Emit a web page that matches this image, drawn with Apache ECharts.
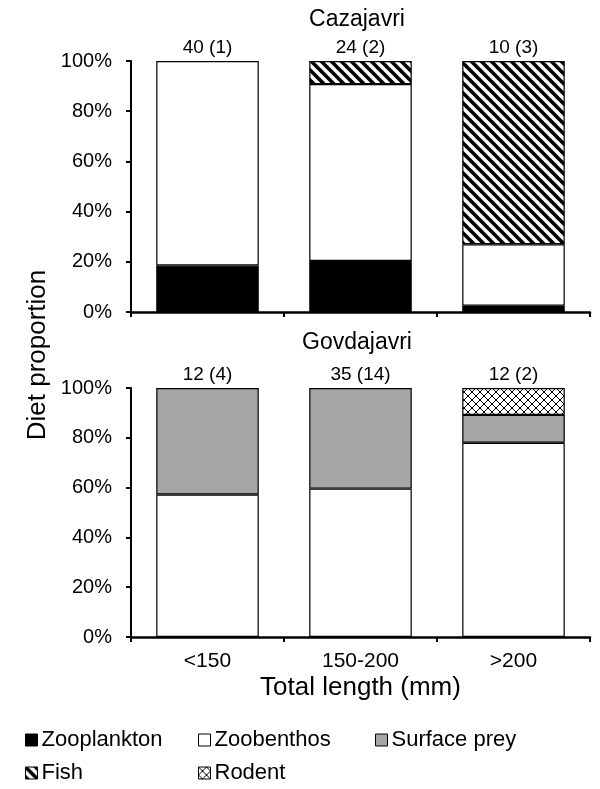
<!DOCTYPE html>
<html>
<head>
<meta charset="utf-8">
<script src="https://cdn.jsdelivr.net/npm/echarts@6/dist/echarts.min.js"></script>
<style>
html,body{margin:0;padding:0;background:#fff;}
#chart{width:600px;height:789px;}
</style>
</head>
<body>
<div id="chart"></div>
<script>
// ---- data ----
var categories = ['<150', '150-200', '>200'];
var preyNames = ['Zooplankton', 'Zoobenthos', 'Surface prey', 'Fish', 'Rodent'];
var lakeTitles = ['Cazajavri', 'Govdajavri'];
// Cazajavri (%)
var cazZooplankton = [18.5, 20.3, 2.5];
var cazZoobenthos = [81.5, 70.5, 24.5];
var cazSurfacePrey = [0, 0, 0];
var cazFish = [0, 9.2, 73.0];
var cazRodent = [0, 0, 0];
var cazCounts = ['40 (1)', '24 (2)', '10 (3)'];
// Govdajavri (%)
var govZooplankton = [0, 0, 0];
var govZoobenthos = [57.2, 59.6, 78.0];
var govSurfacePrey = [42.8, 40.4, 11.2];
var govFish = [0, 0, 0];
var govRodent = [0, 0, 10.8];
var govCounts = ['12 (4)', '35 (14)', '12 (2)'];
var yTicks = [0, 20, 40, 60, 80, 100];

// ---- patterns ----
function stripePattern() {
  var c = document.createElement('canvas');
  c.width = 10; c.height = 10;
  var g = c.getContext('2d');
  g.fillStyle = '#fff'; g.fillRect(0, 0, 10, 10);
  g.strokeStyle = '#000'; g.lineWidth = 3.6;
  for (var k = -10; k <= 10; k += 10) {
    g.beginPath(); g.moveTo(k - 2, -2); g.lineTo(k + 12, 12); g.stroke();
  }
  return c;
}
function crossPattern() {
  var c = document.createElement('canvas');
  c.width = 8; c.height = 8;
  var g = c.getContext('2d');
  g.fillStyle = '#fff'; g.fillRect(0, 0, 8, 8);
  g.strokeStyle = '#000'; g.lineWidth = 1;
  g.beginPath(); g.moveTo(-1, -1); g.lineTo(9, 9); g.stroke();
  g.beginPath(); g.moveTo(9, -1); g.lineTo(-1, 9); g.stroke();
  return c;
}
var fills = {
  'Zooplankton': '#000000',
  'Zoobenthos': '#ffffff',
  'Surface prey': '#a6a6a6',
  'Fish': {image: stripePattern(), repeat: 'repeat'},
  'Rodent': {image: crossPattern(), repeat: 'repeat'}
};

var FONT = "'Liberation Sans', Arial, sans-serif";
var lakes = [
  {values: [cazZooplankton, cazZoobenthos, cazSurfacePrey, cazFish, cazRodent], counts: cazCounts},
  {values: [govZooplankton, govZoobenthos, govSurfacePrey, govFish, govRodent], counts: govCounts}
];

var grids = [
  {left: 131, right: 10, top: 61, height: 251},
  {left: 131, right: 10, top: 388, height: 249}
];

var xAxes = [], yAxes = [], series = [];
lakes.forEach(function (lake, gi) {
  xAxes.push({
    type: 'category', gridIndex: gi, data: categories,
    axisLine: {lineStyle: {color: '#000', width: 2.5}},
    axisTick: {show: true, length: 5, lineStyle: {color: '#000', width: 2}},
    axisLabel: {show: gi === 1, color: '#000', fontSize: 21, fontFamily: FONT, margin: 14},
    name: gi === 1 ? 'Total length (mm)' : '',
    nameLocation: 'middle', nameGap: 38,
    nameTextStyle: {color: '#000', fontSize: 26, fontFamily: FONT}
  });
  yAxes.push({
    type: 'value', gridIndex: gi, min: 0, max: 100, interval: 20,
    axisLine: {show: true, lineStyle: {color: '#000', width: 2}},
    axisTick: {show: true, length: 5, lineStyle: {color: '#000', width: 2}},
    splitLine: {show: false},
    axisLabel: {color: '#000', fontSize: 20, fontFamily: FONT, margin: 19, formatter: '{value}%'}
  });
  preyNames.forEach(function (name, si) {
    series.push({
      type: 'bar', name: name, xAxisIndex: gi, yAxisIndex: gi, stack: 'lake' + gi,
      barWidth: '67%',
      data: lake.values[si].map(function (v) { return v === 0 ? null : v; }),
      itemStyle: {color: fills[name], borderColor: '#000', borderWidth: 1.2},
      emphasis: {disabled: true},
      animation: false
    });
  });
  series.push({
    type: 'scatter', name: 'n' + gi, xAxisIndex: gi, yAxisIndex: gi,
    symbol: 'circle', symbolSize: 1, clip: false, silent: true, z: 10,
    data: categories.map(function (c, i) { return [i, 100]; }),
    label: {
      show: true, position: 'top', distance: 3, color: '#000', opacity: 1,
      fontSize: 19, fontFamily: FONT,
      formatter: function (p) { return lake.counts[p.dataIndex]; }
    },
    itemStyle: {color: 'rgba(0,0,0,0)'},
    animation: false
  });
});

var legendPos = [
  {name: 'Zooplankton', left: 25, top: 729},
  {name: 'Zoobenthos', left: 198, top: 729},
  {name: 'Surface prey', left: 375, top: 729},
  {name: 'Fish', left: 25, top: 762},
  {name: 'Rodent', left: 198, top: 762}
];
var legends = legendPos.map(function (lp) {
  return {
    data: [lp.name], left: lp.left, top: lp.top, padding: 0,
    icon: 'rect', itemWidth: 12, itemHeight: 12, selectedMode: false,
    itemStyle: {borderColor: '#000', borderWidth: 1},
    textStyle: {color: '#000', fontSize: 22, fontFamily: FONT, padding: [0, 0, 0, -1]}
  };
});

var chart = echarts.init(document.getElementById('chart'), null, {renderer: 'canvas'});
chart.setOption({
  backgroundColor: '#fff',
  animation: false,
  title: [
    {text: lakeTitles[0], left: 357, top: 8, textAlign: 'center', padding: 0,
     textStyle: {color: '#000', fontSize: 23, fontWeight: 'normal', fontFamily: FONT}},
    {text: lakeTitles[1], left: 357, top: 331, textAlign: 'center', padding: 0,
     textStyle: {color: '#000', fontSize: 23, fontWeight: 'normal', fontFamily: FONT}}
  ],
  grid: grids,
  xAxis: xAxes,
  yAxis: yAxes,
  legend: legends,
  series: series,
  graphic: [{
    type: 'text', x: 38, y: 355, rotation: Math.PI / 2,
    style: {text: 'Diet proportion', fill: '#000', fontSize: 26, fontFamily: FONT,
            textAlign: 'center', textVerticalAlign: 'middle'}
  }]
});
</script>
</body>
</html>
